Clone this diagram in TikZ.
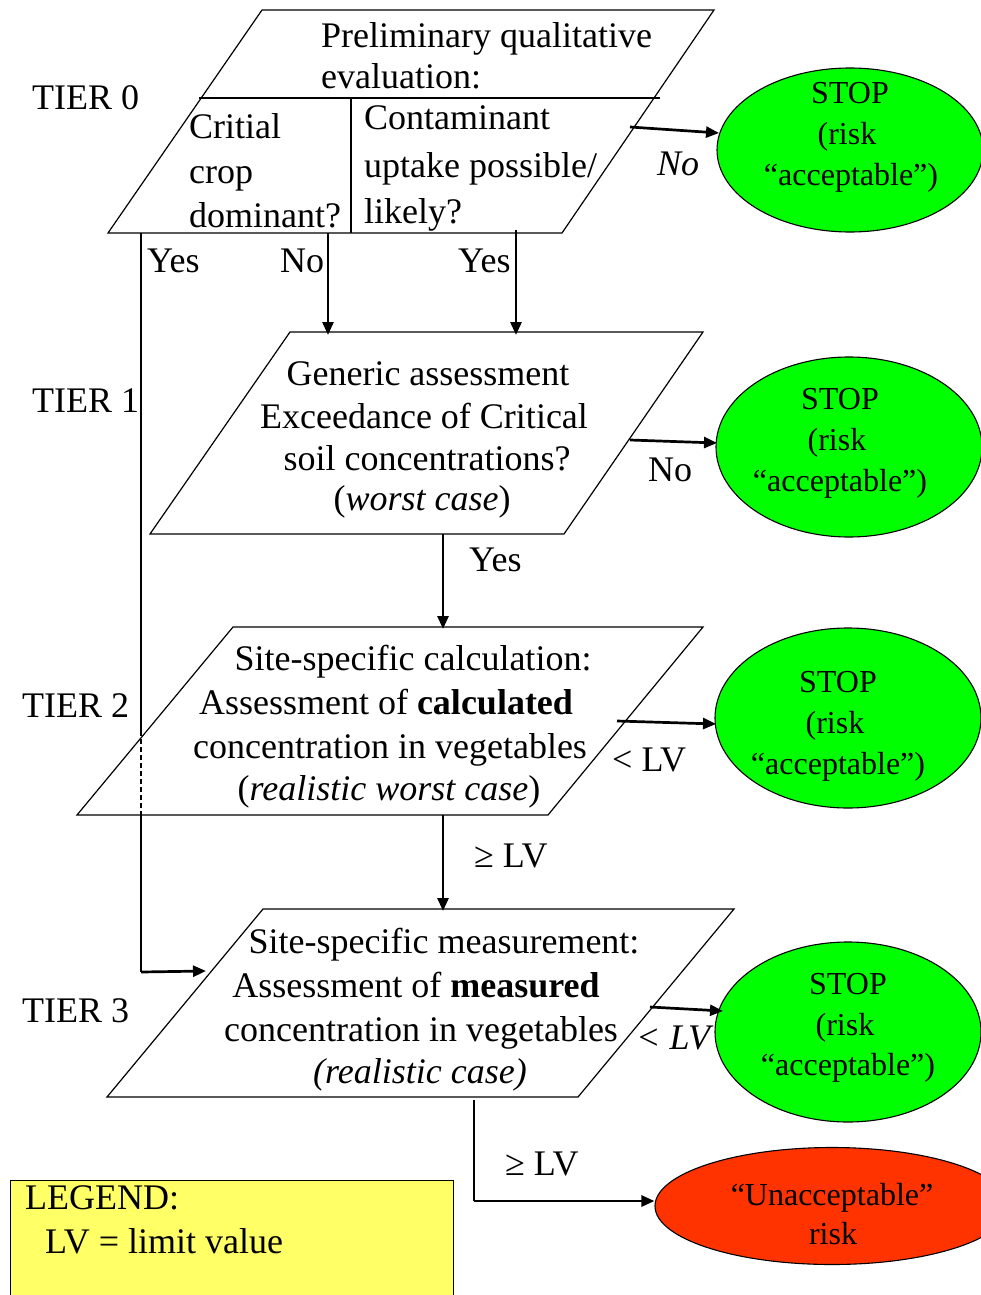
\documentclass[tikz,border=0pt]{standalone}
\usepackage{fontspec}
\setmainfont{Liberation Serif}
\usetikzlibrary{shapes.geometric,arrows.meta}
\definecolor{stopgreen}{HTML}{00FF00}
\definecolor{riskred}{HTML}{FF3300}
\definecolor{legendyellow}{HTML}{FFFF66}
\tikzset{
  txt/.style={inner sep=0pt, font=\fontsize{36}{42}\selectfont, anchor=base},
  txtl/.style={txt, anchor=base west},
  etxt/.style={inner sep=0pt, font=\fontsize{32}{40}\selectfont, anchor=base},
  para/.style={draw, line width=1.2pt, line join=miter},
  thinline/.style={draw, line width=1.2pt},
  arr/.style={-{Triangle[length=13pt,width=11pt]}, line width=2.7pt},
  stopell/.style={ellipse, draw, fill=stopgreen, line width=1.1pt, inner sep=0pt, minimum width=266pt},
  riskell/.style={ellipse, draw, fill=riskred, line width=1.1pt, inner sep=0pt},
  legendbox/.style={draw, fill=legendyellow, line width=1.1pt, inner sep=0pt, anchor=north west},
}
\begin{document}
\begin{tikzpicture}[x=1pt,y=-1pt]
\useasboundingbox (0,0) rectangle (981,1295);
\clip (0,0) rectangle (981,1295);

% ---------- shapes ----------
\draw[para] (262,10) -- (714,10) -- (562,233) -- (108,233) -- cycle;
\draw[thinline] (199,98) -- (660,98);
\draw[thinline] (351,98) -- (351,233);
\draw[para] (290,332) -- (703,332) -- (564,534) -- (150,534) -- cycle;
\draw[para] (233,627) -- (703,627) -- (548,815) -- (77,815) -- cycle;
\draw[para] (263,909) -- (734,909) -- (578,1097) -- (107,1097) -- cycle;

\node[stopell, minimum height=164pt] (stop0) at (850,150) {};
\node[stopell, minimum height=180pt] (stop1) at (849,447) {};
\node[stopell, minimum height=180pt] (stop2) at (848,718) {};
\node[stopell, minimum height=180pt] (stop3) at (848,1032) {};
\node[riskell, minimum width=354pt, minimum height=117pt] (risk) at (832,1206) {};
\node[legendbox, minimum width=443pt, minimum height=140pt] (legend) at (10,1180) {};

% ---------- connector coordinates ----------
\coordinate (c0no) at (630,127);
\coordinate (e0no) at (719,133);
\coordinate (c0a) at (328,233);
\coordinate (c0b) at (516,230);
\coordinate (t1a) at (328,335);
\coordinate (t1b) at (516,335);
\coordinate (c1no) at (630,440);
\coordinate (e1no) at (717,443);
\coordinate (c1down) at (443,534);
\coordinate (t2top) at (443,629);
\coordinate (c2lt) at (617,721);
\coordinate (e2lt) at (716,724);
\coordinate (c2down) at (443,815);
\coordinate (t3top) at (443,911);
\coordinate (c3lt) at (650,1007);
\coordinate (e3lt) at (723,1011);
\coordinate (c3down) at (474,1100);
\coordinate (c3corner) at (474,1201);
\coordinate (lyes) at (141,233);
\coordinate (ldash1) at (141,731);
\coordinate (ldash2) at (141,815);
\coordinate (lcorner) at (141,972);
\coordinate (lend) at (206,971);

% ---------- connectors ----------
\draw[arr] (c0no) -- (e0no);
\draw[arr] (c0a) -- (t1a);
\draw[arr] (c0b) -- (t1b);
\draw[arr] (c1no) -- (e1no);
\draw[arr] (c1down) -- (t2top);
\draw[arr] (c2lt) -- (e2lt);
\draw[arr] (c2down) -- (t3top);
\draw[arr] (c3lt) -- (e3lt);
\draw[line width=1.2pt] (c3down) -- (c3corner);
\draw[arr] (c3corner) -- (c3corner -| risk.west);
\draw[line width=1.2pt] (lyes) -- (ldash1);
\draw[line width=2pt, dash pattern=on 5pt off 3pt] (ldash1) -- (ldash2);
\draw[line width=1.2pt] (ldash2) -- (lcorner);
\draw[arr] (lcorner) -- (lend);

% ---------- tier labels ----------
\node[txtl] (tier0) at (32,110) {TIER 0};
\node[txtl] (tier1) at (32,412) {TIER 1};
\node[txtl] (tier2) at (22,717) {TIER 2};
\node[txtl] (tier3) at (22,1022) {TIER 3};

% ---------- tier 0 text ----------
\node[txtl] (p0a) at (321,48) {Preliminary qualitative};
\node[txtl] (p0b) at (321,89) {evaluation:};
\node[txtl] (p0c) at (189,139) {Critial};
\node[txtl] (p0d) at (189,183) {crop};
\node[txtl] (p0e) at (189,227) {dominant?};
\node[txtl] (p0f) at (364,129) {Contaminant};
\node[txtl] (p0g) at (364,177) {uptake possible/};
\node[txtl] (p0h) at (364,223) {likely?};
\node[txtl] (l0no) at (657,175) {\itshape No};
\node[txtl] (l0yes1) at (147,272) {Yes};
\node[txtl] (l0no2) at (280,272) {No};
\node[txtl] (l0yes2) at (458,272) {Yes};

% ---------- tier 1 text ----------
\node[txt] (p1a) at (428,385) {Generic assessment};
\node[txt] (p1b) at (424,428) {Exceedance of Critical};
\node[txt] (p1c) at (427,470) {soil concentrations?};
\node[txt] (p1d) at (422,510) {(\textit{worst case})};
\node[txtl] (l1no) at (648,481) {No};
\node[txtl] (l1yes) at (469,571) {Yes};

% ---------- tier 2 text ----------
\node[txt] (p2a) at (413,670) {Site-specific calculation:};
\node[txt] (p2b) at (386,714) {Assessment of \textbf{calculated}};
\node[txt] (p2c) at (390,758) {concentration in vegetables};
\node[txt] (p2d) at (389,800) {(\textit{realistic worst case})};
\node[txtl] (l2lt) at (612,771) {< LV};
\node[txtl] (l2ge) at (474,867) {≥ LV};

% ---------- tier 3 text ----------
\node[txt] (p3a) at (444,953) {Site-specific measurement:};
\node[txt] (p3b) at (416,997) {Assessment of \textbf{measured}};
\node[txt] (p3c) at (421,1041) {concentration in vegetables};
\node[txt] (p3d) at (420,1083) {\itshape (realistic case)};
\node[txtl] (l3lt) at (636,1049) {\itshape < LV};
\node[txtl] (l3ge) at (505,1175) {≥ LV};

% ---------- ellipse text ----------
\node[etxt] (s0a) at (850,104) {STOP};
\node[etxt] (s0b) at (847,145) {(risk};
\node[etxt] (s0c) at (851,185) {“acceptable”)};
\node[etxt] (s1a) at (840,409) {STOP};
\node[etxt] (s1b) at (837,450) {(risk};
\node[etxt] (s1c) at (840,491) {“acceptable”)};
\node[etxt] (s2a) at (838,692) {STOP};
\node[etxt] (s2b) at (835,733) {(risk};
\node[etxt] (s2c) at (838,774) {“acceptable”)};
\node[etxt] (s3a) at (848,994) {STOP};
\node[etxt] (s3b) at (845,1035) {(risk};
\node[etxt] (s3c) at (848,1075) {“acceptable”)};
\node[etxt] (r1) at (832,1205) {“Unacceptable”};
\node[etxt] (r2) at (833,1244) {risk};

% ---------- legend ----------
\node[txtl] (lg1) at (25,1209) {LEGEND:};
\node[txtl] (lg2) at (45,1253) {LV = limit value};
\end{tikzpicture}
\end{document}
